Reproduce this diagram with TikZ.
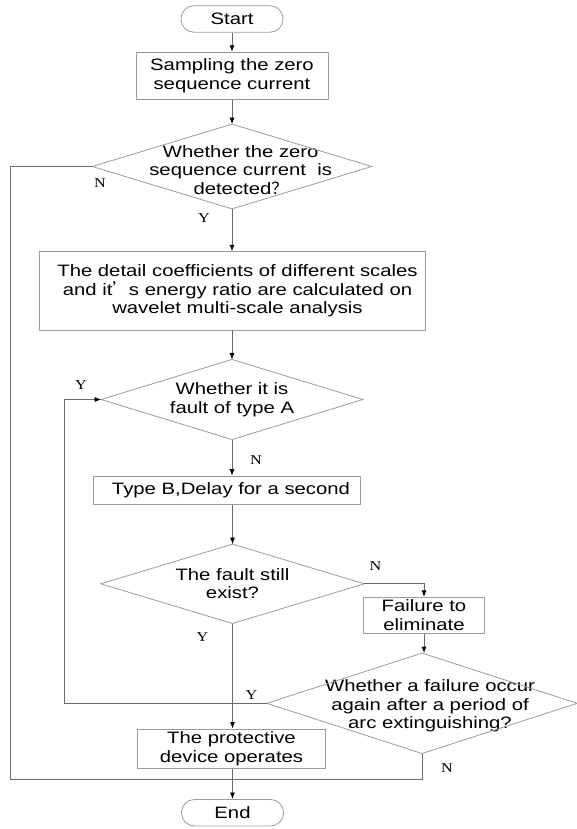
\documentclass[tikz,border=0pt]{standalone}
\usepackage{fontspec}
\setmainfont{Liberation Sans}[FakeStretch=1.23]
\newfontfamily\lblfont{Liberation Serif}[FakeStretch=1.2]
\newfontfamily\cjkfont{Noto Sans CJK SC}
\usetikzlibrary{arrows.meta}
\definecolor{boxcol}{RGB}{155,155,155}
\definecolor{linecol}{RGB}{105,105,105}
\begin{document}
\begin{tikzpicture}[x=1pt,y=-1pt,
  txt/.style={inner sep=0pt,align=center,font=\fontsize{16.5}{18.5}\selectfont},
  stbox/.style={txt,draw=boxcol,line width=0.8pt},
  term/.style={stbox,rounded corners=13pt,minimum width=102pt,minimum height=26.5pt},
  geo/.style={inner sep=0pt,minimum width=#1},
  lbl/.style={inner sep=0pt,font=\lblfont\fontsize{13.5}{14}\selectfont},
  conn/.style={draw=linecol,line width=0.8pt},
  arr/.style={conn,-{Latex[length=6.5pt,width=5pt,color=black]}},
  dia/.style={draw=boxcol,line width=0.8pt}
]
\useasboundingbox (0,0) rectangle (577,829);

% nodes
\node[term] (start) at (232,19) {Start};
\node[stbox,minimum width=192pt,minimum height=47pt] (samp) at (232,75.7) {Sampling the zero\\sequence current};

\node[geo=279pt,minimum height=84.4pt] (d1) at (232,166.5) {};
\node[txt] (d1t) at (240.7,170) {Whether the zero\\sequence current\ \ is\\detected{\cjkfont ？}};

\node[stbox,minimum width=386.4pt,minimum height=78.3pt] (detail) at (232.6,290.8) {};
\node[txt] (detailt) at (237.5,291) {The detail coefficients of different scales\\and it{\cjkfont ’}s energy ratio are calculated on\\wavelet multi-scale analysis};

\node[geo=261.3pt,minimum height=79.7pt,txt] (d2) at (232,399.5) {Whether it is\\fault of type A};

\node[stbox,minimum width=266.5pt,minimum height=28.3pt] (typeb) at (226.8,490.2) {};
\node[txt] (typebt) at (231,490.5) {Type B,Delay for a second};

\node[geo=263pt,minimum height=79pt,txt] (d4) at (232.5,583.8) {The fault still\\exist?};

\node[stbox,minimum width=120.3pt,minimum height=36pt] (fail) at (424,615.3) {Failure to\\eliminate};

\node[geo=310pt,minimum height=100pt] (d5) at (422,703.3) {};
\node[txt] (d5t) at (430,706) {Whether a failure occur\\again after a period of\\arc extinguishing?};

\node[stbox,minimum width=188pt,minimum height=39.7pt] (prot) at (231.5,748.8) {The protective\\device operates};

\node[term] (end) at (232.5,812.7) {End};

% diamond outlines
\foreach \d in {d1,d2,d4,d5}{
  \draw[dia] (\d.north) -- (\d.east) -- (\d.south) -- (\d.west) -- cycle;
}

% helper coordinates
\coordinate (yl) at (64.4,0);
\coordinate (nl) at (10,779.3);

% connectors
\draw[arr] (start.south) -- (samp.north);
\draw[arr] (samp.south) -- (d1.north);
\draw[arr] (d1.south) -- (d1.south |- detail.north);
\draw[arr] (detail.south -| d2.north) -- (d2.north);
\draw[arr] (d2.south) -- (d2.south |- typeb.north);
\draw[arr] (d4.north |- typeb.south) -- (d4.north);
\draw[arr] (d4.east) -| (fail.north);
\draw[arr] (fail.south) -- (fail.south |- d5.north);
\draw[arr] (d4.south) -- (d4.south |- prot.north);
\draw[arr] (prot.south -| end.north) -- (end.north);
\draw[arr] (d5.west) -- (d5.west -| yl) |- (d2.west);
\draw[conn] (d1.west) -| (nl) -| (d5.south);

% labels
\node[lbl] (n1) at (100,183) {N};
\node[lbl] (y1) at (204,218) {Y};
\node[lbl] (y2) at (81,385) {Y};
\node[lbl] (n2) at (256,460) {N};
\node[lbl] (n3) at (375.4,566) {N};
\node[lbl] (y3) at (202.4,636.7) {Y};
\node[lbl] (y4) at (251.4,695) {Y};
\node[lbl] (n4) at (447,767.7) {N};
\end{tikzpicture}
\end{document}
